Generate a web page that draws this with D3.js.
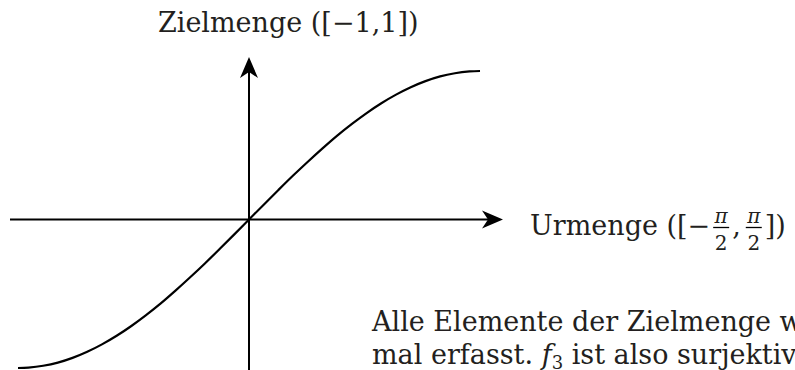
<!DOCTYPE html>
<html>
<head>
<meta charset="utf-8">
<script src="https://cdn.jsdelivr.net/npm/d3@7"></script>
<style>
  html, body { margin: 0; padding: 0; background: #fff; }
  svg { display: block; }
  text { font-family: "DejaVu Serif", "Liberation Serif", serif; fill: #231f20; }
</style>
</head>
<body>
<svg id="chart" width="795" height="370"></svg>
<script>
// Data (x in radians, y in [-1,1])
const xValues = [-1.5708, -1.5, -1.4, -1.3, -1.2, -1.1, -1.0, -0.9, -0.8, -0.7, -0.6, -0.5, -0.4, -0.3, -0.2, -0.1, 0,
                 0.1, 0.2, 0.3, 0.4, 0.5, 0.6, 0.7, 0.8, 0.9, 1.0, 1.1, 1.2, 1.3, 1.4, 1.5, 1.5708];
const yValues = [-1, -0.997, -0.985, -0.964, -0.932, -0.891, -0.841, -0.783, -0.717, -0.644, -0.565, -0.479, -0.389, -0.296, -0.199, -0.1, 0,
                 0.1, 0.199, 0.296, 0.389, 0.479, 0.565, 0.644, 0.717, 0.783, 0.841, 0.891, 0.932, 0.964, 0.985, 0.997, 1];
const yAxisLabel = "Zielmenge ([\u22121,1])";
const xAxisLabelPrefix = "Urmenge ([\u2212";
const textLines = ["Alle Elemente der Zielmenge werden mindestens ein-", "mal erfasst. "];
const textLine2Tail = " ist also surjektiv.";

const svg = d3.select("#chart");
const x = d3.scaleLinear().domain([-Math.PI / 2, Math.PI / 2]).range([18, 480]);
const y = d3.scaleLinear().domain([-1, 1]).range([368, 71]);

const ox = x(0), oy = y(0);
const ink = "#000";
const FS = 27;

// horizontal axis
svg.append("line").attr("x1", 10).attr("y1", oy).attr("x2", 490).attr("y2", oy)
  .attr("stroke", ink).attr("stroke-width", 2);
// vertical axis
svg.append("line").attr("x1", ox).attr("y1", 372).attr("x2", ox).attr("y2", 70)
  .attr("stroke", ink).attr("stroke-width", 2);

// arrowheads (LaTeX style)
const tipX = 503, tipY = 57;
svg.append("path")
  .attr("d", `M${tipX},${oy} L${tipX - 21},${oy - 9} L${tipX - 15},${oy} L${tipX - 21},${oy + 9} Z`)
  .attr("fill", ink);
svg.append("path")
  .attr("d", `M${ox},${tipY} L${ox - 9},${tipY + 21} L${ox},${tipY + 15} L${ox + 9},${tipY + 21} Z`)
  .attr("fill", ink);

// curve
const pts = xValues.map((v, i) => [v, yValues[i]]);
svg.append("path")
  .datum(pts)
  .attr("d", d3.line().x(d => x(d[0])).y(d => y(d[1])).curve(d3.curveCatmullRom))
  .attr("fill", "none").attr("stroke", ink).attr("stroke-width", 2.2);

// y label
svg.append("text").attr("x", 158).attr("y", 32).attr("font-size", FS).text(yAxisLabel);

// x label with fractions
const lab = svg.append("text").attr("x", 530).attr("y", 235).attr("font-size", FS).text(xAxisLabelPrefix);
let cx = 530 + lab.node().getComputedTextLength();
function frac(cxLeft) {
  const w = 16, pad = 3;
  const mid = cxLeft + pad + w / 2;
  svg.append("text").attr("x", mid).attr("y", 222.5).attr("font-size", 20).attr("font-style", "italic")
    .attr("text-anchor", "middle").text("\u03C0");
  svg.append("line").attr("x1", cxLeft + pad).attr("x2", cxLeft + pad + w).attr("y1", 227.5).attr("y2", 227.5)
    .attr("stroke", ink).attr("stroke-width", 1.3);
  svg.append("text").attr("x", mid).attr("y", 250).attr("font-size", 20)
    .attr("text-anchor", "middle").text("2");
  return cxLeft + w + 2 * pad;
}
cx = frac(cx);
const comma = svg.append("text").attr("x", cx).attr("y", 235).attr("font-size", FS).text(",");
cx += comma.node().getComputedTextLength() + 2;
cx = frac(cx);
svg.append("text").attr("x", cx).attr("y", 235).attr("font-size", FS).text("])");

// paragraph text
svg.append("text").attr("x", 372).attr("y", 331).attr("font-size", FS).text(textLines[0]);
const l2 = svg.append("text").attr("x", 372).attr("y", 364).attr("font-size", FS);
l2.append("tspan").text(textLines[1]);
l2.append("tspan").attr("font-style", "italic").text("f");
l2.append("tspan").attr("font-size", 18).attr("dy", 5).text("3");
l2.append("tspan").attr("dy", -5).text(textLine2Tail);
</script>
</body>
</html>
